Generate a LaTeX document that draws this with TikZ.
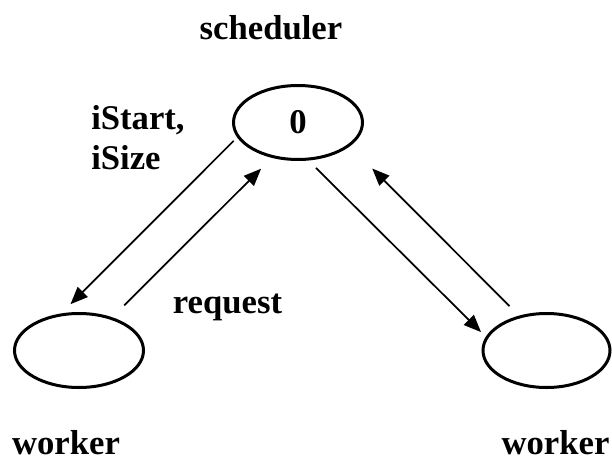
\documentclass[tikz,border=0pt]{standalone}
\usepackage{fontspec}
\setmainfont{Liberation Serif}
\usetikzlibrary{shapes.geometric,arrows.meta}

\tikzset{
  proc/.style={ellipse, draw, line width=2.25pt, inner sep=0pt, outer sep=0pt,
    minimum width=96.75pt, minimum height=55.5pt,
    font=\fontsize{26}{30}\selectfont\bfseries},
  lbl/.style={inner sep=0pt, font=\fontsize{26}{30}\selectfont\bfseries},
  msg/.style={line width=1.3pt, -{Triangle[length=13pt,width=10.5pt]}}
}

\begin{document}
\begin{tikzpicture}[x=0.75pt,y=-0.75pt]
  \path[use as bounding box] (0,0) rectangle (612,461);

  % processes
  \node[proc] (sched) at (298,122.5) {0};
  \node[proc] (w1) at (79,350.5) {};
  \node[proc, minimum width=95.25pt] (w2) at (546.5,350.5) {};

  % labels
  \node[lbl, anchor=base] (tsched) at (271,39) {scheduler};
  \node[lbl, anchor=base west] (tstart) at (91,129) {iStart,};
  \node[lbl, anchor=base west] (tsize) at (91,169) {iSize};
  \node[lbl, anchor=base] (treq) at (227.5,313) {request};
  \node[lbl, anchor=base] (tw1) at (66,454) {worker};
  \node[lbl, anchor=base] (tw2) at (555.5,454) {worker};

  % messages between scheduler and workers
  \draw[msg, shorten <=4.8pt, shorten >=11.7pt] (sched.193.2) -- (w1.119.4);
  \draw[msg, shorten <=13.9pt, shorten >=12.8pt] (w1.45.4) -- (sched.234.4);
  \draw[msg, shorten <=9.4pt, shorten >=6.1pt] (sched.284.4) -- (w2.168);
  \draw[msg, shorten <=11.3pt, shorten >=24.7pt] (w2.128.4) -- (sched.336.4);
\end{tikzpicture}
\end{document}
